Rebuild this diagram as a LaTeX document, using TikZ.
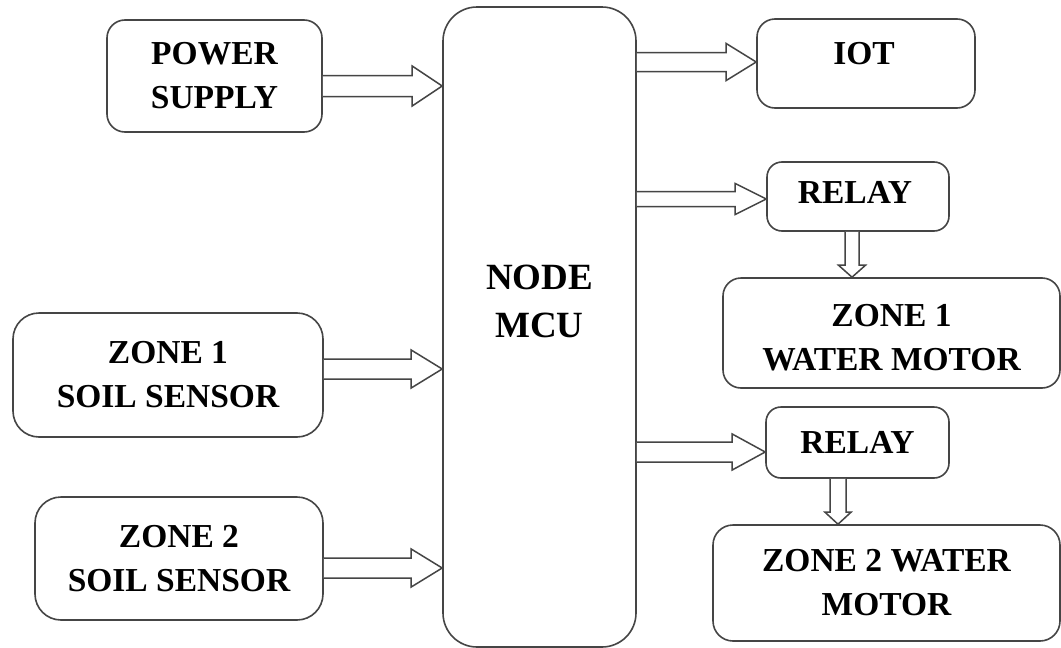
\documentclass[tikz,border=0pt]{standalone}
\usepackage{fontspec}
\setmainfont{Liberation Serif}
\usetikzlibrary{calc}
\definecolor{edge}{HTML}{454545}
\tikzset{
  box/.style={draw=edge, line width=1.6pt, rounded corners=18pt, fill=white,
    align=center, inner sep=0pt, font=\fontsize{33.5}{44}\selectfont\bfseries},
  txt/.style={align=center, inner sep=0pt, font=\fontsize{33.5}{44}\selectfont\bfseries},
  arr/.style={draw=edge, line width=1.5pt, fill=white, line join=miter}
}
% horizontal block arrow: from node #1 (east) to node #2 (west) at height #3
\newcommand\harr[6]{%
  \draw[arr] let \p1=(#1.east),\p2=(#2.west),\p3=(0,#3) in
    (\x1,\y3+#4pt) -- (\x2-#6pt,\y3+#4pt) -- (\x2-#6pt,\y3+#5pt) -- (\x2,\y3)
    -- (\x2-#6pt,\y3-#5pt) -- (\x2-#6pt,\y3-#4pt) -- (\x1,\y3-#4pt);}
% vertical block arrow: from node #1 (south) to node #2 (north) at x #3
\newcommand\varr[6]{%
  \draw[arr] let \p1=(#1.south),\p2=(#2.north),\p3=(#3,0) in
    (\x3-#4pt,\y1) -- (\x3-#4pt,\y2+#6pt) -- (\x3-#5pt,\y2+#6pt) -- (\x3,\y2)
    -- (\x3+#5pt,\y2+#6pt) -- (\x3+#4pt,\y2+#6pt) -- (\x3+#4pt,\y1);}
\begin{document}
\begin{tikzpicture}[x=1pt,y=-1pt]
\fill[white] (0,0) rectangle (1061,648);
\useasboundingbox (0,0) rectangle (1061,648);

\node[box, minimum width=215pt, minimum height=112pt] (ps) at (214.5,76) {POWER\\SUPPLY};
\node[box, minimum width=310pt, minimum height=124pt, rounded corners=26pt] (s1) at (168,375) {ZONE 1\\SOIL SENSOR};
\node[box, minimum width=288pt, minimum height=123pt, rounded corners=26pt] (s2) at (179,558.5) {ZONE 2\\SOIL SENSOR};
\node[box, minimum width=193pt, minimum height=640pt, rounded corners=34pt] (mcu) at (539.5,327) {};
\node[txt, font=\fontsize{37}{48}\selectfont\bfseries] (mcut) at (539.5,301) {NODE\\MCU};
\node[box, minimum width=218pt, minimum height=89pt] (iot) at (866,63.5) {};
\node[txt] (iott) at (864,54) {IOT};
\node[box, minimum width=182pt, minimum height=69pt, rounded corners=15pt] (r1) at (858,196.5) {};
\node[txt] (r1t) at (855,192.5) {RELAY};
\node[box, minimum width=337pt, minimum height=110pt] (m1) at (891.5,333) {};
\node[txt] (m1t) at (891.5,337.5) {ZONE 1\\WATER MOTOR};
\node[box, minimum width=183pt, minimum height=71pt, rounded corners=15pt] (r2) at (857.5,442.5) {RELAY};
\node[box, minimum width=347pt, minimum height=116pt, rounded corners=20pt] (m2) at (886.5,583) {ZONE 2 WATER\\MOTOR};

\harr{ps}{mcu}{86}{10.5}{20}{30}
\harr{s1}{mcu}{369}{10}{19}{31}
\harr{s2}{mcu}{568}{10}{19}{31}
\harr{mcu}{iot}{62}{9.5}{18.5}{30}
\harr{mcu}{r1}{199}{7.5}{15.5}{31}
\harr{mcu}{r2}{452}{10}{18}{33}
\varr{r1}{m1}{852}{7}{13.5}{12}
\varr{r2}{m2}{838}{8}{13}{12}
\end{tikzpicture}
\end{document}
